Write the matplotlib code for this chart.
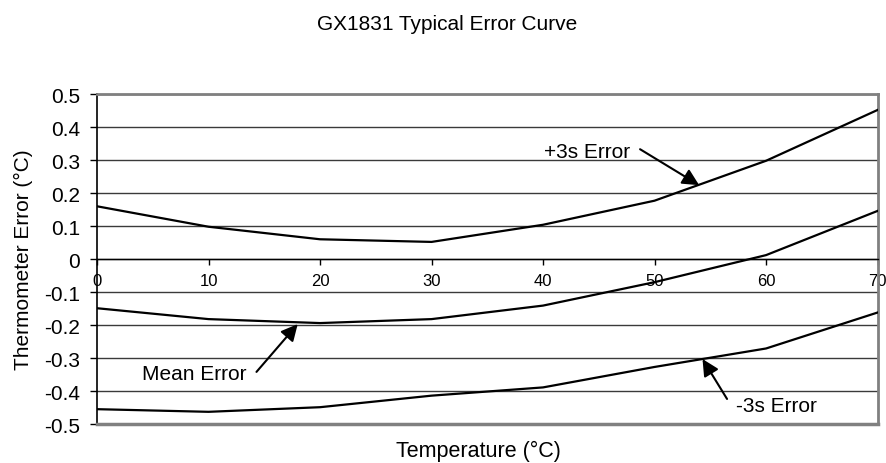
import matplotlib
matplotlib.use("Agg")
import matplotlib.pyplot as plt

plt.rcParams['font.family'] = ['Liberation Sans', 'DejaVu Sans']

# данные
temps = [0, 10, 20, 30, 40, 50, 60, 70]
plus3s = [0.160, 0.098, 0.060, 0.052, 0.104, 0.177, 0.298, 0.452]
mean_err = [-0.149, -0.182, -0.194, -0.182, -0.141, -0.070, 0.012, 0.146]
minus3s = [-0.455, -0.463, -0.449, -0.414, -0.389, -0.327, -0.271, -0.162]
y_ticks = [0.5, 0.4, 0.3, 0.2, 0.1, 0, -0.1, -0.2, -0.3, -0.4, -0.5]
y_tick_labels = ['0.5', '0.4', '0.3', '0.2', '0.1', '0', '-0.1', '-0.2', '-0.3', '-0.4', '-0.5']

fig = plt.figure(figsize=(8.86, 4.64), dpi=100)
ax = fig.add_axes([0.1095, 0.084, 0.881, 0.711])

# ось x проходит через ноль (ставим до настройки подписей, иначе сбрасываются)
ax.spines['bottom'].set_position(('data', 0))
ax.spines['bottom'].set_color('black')
ax.spines['bottom'].set_linewidth(1.0)
ax.spines['left'].set_color('black')
ax.spines['left'].set_linewidth(1.2)
for s in ['top', 'right']:
    ax.spines[s].set_color('#808080')
    ax.spines[s].set_linewidth(2.0)

# сетка по y
for v in y_ticks:
    ax.axhline(v, color='#3a3a3a', lw=1.0, zorder=1)
ax.axhline(-0.5, color='#808080', lw=2.5, zorder=4, clip_on=False)

ax.plot(temps, plus3s, color='black', lw=1.6, zorder=3)
ax.plot(temps, mean_err, color='black', lw=1.6, zorder=3)
ax.plot(temps, minus3s, color='black', lw=1.6, zorder=3)

ax.set_xlim(0, 70)
ax.set_ylim(-0.5, 0.5)
ax.set_yticks(y_ticks)
ax.set_yticklabels(y_tick_labels)
ax.set_xticks(temps)
ax.set_xticklabels([str(t) for t in temps])

ax.tick_params(axis='x', direction='out', length=4, width=1, pad=6, labelsize=12)
ax.tick_params(axis='y', direction='out', length=5, width=1, pad=7, labelsize=15)

# подписи и стрелки
arrow = dict(arrowstyle='-|>', color='black', lw=1.5, mutation_scale=25, shrinkA=0, shrinkB=0)
ax.text(47.8, 0.327, '+3s Error', fontsize=15, ha='right', va='center', zorder=5)
ax.annotate('', xy=(54.0, 0.224), xytext=(48.7, 0.333), arrowprops=arrow, zorder=5)
ax.text(13.4, -0.348, 'Mean Error', fontsize=15, ha='right', va='center', zorder=5)
ax.annotate('', xy=(18.0, -0.197), xytext=(14.3, -0.342), arrowprops=arrow, zorder=5)
ax.text(57.3, -0.444, '-3s Error', fontsize=15, ha='left', va='center', zorder=5)
ax.annotate('', xy=(54.3, -0.303), xytext=(56.5, -0.424), arrowprops=arrow, zorder=5)

fig.text(0.505, 0.947, 'GX1831 Typical Error Curve', ha='center', va='center', fontsize=15)
fig.text(0.0265, 0.44, 'Thermometer Error (°C)', rotation=90, ha='center', va='center', fontsize=15)
fig.text(0.54, 0.028, 'Temperature (°C)', ha='center', va='center', fontsize=15.5)

fig.savefig('out.png', dpi=100)
